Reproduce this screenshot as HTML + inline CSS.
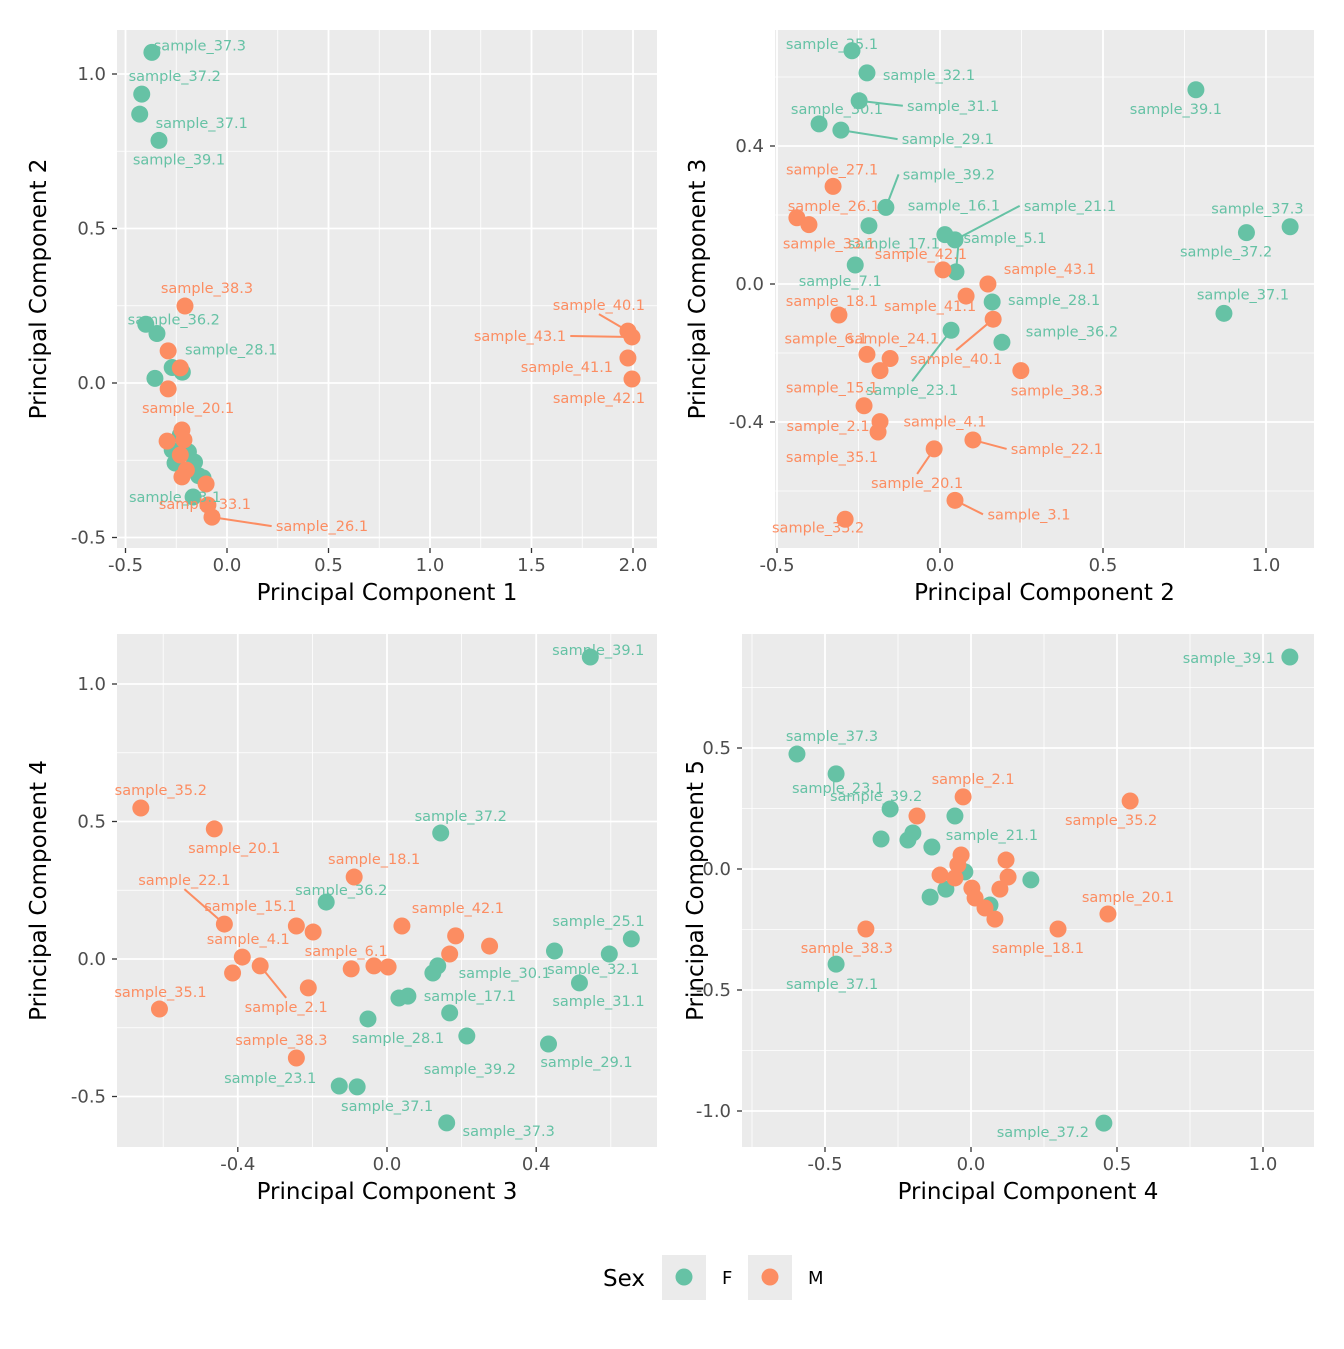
<!DOCTYPE html>
<html><head><meta charset="utf-8"><style>
body{margin:0;background:#fff;}
svg text{font-family:"DejaVu Sans","Liberation Sans",sans-serif;}
</style></head><body>
<svg id="chart" width="1344" height="1344" xmlns="http://www.w3.org/2000/svg">
<rect width="1344" height="1344" fill="#fff"/>
</svg>
<script>
// Panel 1: PC1 vs PC2
const p1x=[-0.37,-0.42,-0.43,-0.335,-0.40,-0.345,-0.355,-0.27,-0.22,-0.23,-0.19,-0.16,-0.14,-0.27,-0.256,-0.167,-0.118,-0.207,-0.29,-0.23,-0.29,-0.295,-0.222,-0.212,-0.23,-0.20,-0.222,-0.103,-0.094,-0.074,1.975,1.995,1.975,1.995];
const p1y=[1.07,0.935,0.87,0.785,0.19,0.16,0.015,0.05,0.035,-0.168,-0.223,-0.256,-0.30,-0.217,-0.259,-0.369,-0.307,0.249,0.104,0.049,-0.019,-0.188,-0.152,-0.184,-0.233,-0.282,-0.304,-0.327,-0.395,-0.434,0.168,0.149,0.081,0.013];
const p1sex=["F","F","F","F","F","F","F","F","F","F","F","F","F","F","F","F","F","M","M","M","M","M","M","M","M","M","M","M","M","M","M","M","M","M"];
const p1lab=["sample_37.3","sample_37.2","sample_37.1","sample_39.1","sample_36.2","","","sample_28.1","","","","","","","","sample_23.1","","sample_38.3","","","sample_20.1","","","","","","","","sample_33.1","sample_26.1","sample_40.1","sample_43.1","sample_41.1","sample_42.1"];
const p1ldx=[48,33,62,20,28,0,0,59,0,0,0,0,0,0,0,-18,0,22,0,0,20,0,0,0,0,0,0,0,-3,110,-29,-112,-61,-33];
const p1ldy=[-7,-18,9,19,-5,0,0,-18,0,0,0,0,0,0,0,0,0,-18,0,0,19,0,0,0,0,0,0,0,-1,9,-26,-1,9,19];
const p1seg=[29,30,31];

// Panel 2: PC2 vs PC3
const p2x=[-0.27,-0.224,-0.248,-0.371,-0.304,0.785,-0.166,-0.218,0.015,0.046,0.049,-0.26,0.16,0.034,0.19,0.94,1.074,0.871,-0.328,-0.439,-0.402,0.009,0.147,0.08,-0.31,0.163,-0.224,-0.153,-0.184,0.248,-0.233,-0.184,-0.19,0.101,-0.018,0.046,-0.291];
const p2y=[0.676,0.612,0.531,0.464,0.446,0.563,0.222,0.169,0.143,0.128,0.035,0.055,-0.052,-0.134,-0.169,0.149,0.166,-0.085,0.283,0.192,0.172,0.041,0,-0.035,-0.09,-0.102,-0.204,-0.216,-0.251,-0.251,-0.353,-0.399,-0.429,-0.452,-0.478,-0.627,-0.682];
const p2sex=["F","F","F","F","F","F","F","F","F","F","F","F","F","F","F","F","F","F","M","M","M","M","M","M","M","M","M","M","M","M","M","M","M","M","M","M","M"];
const p2lab=["sample_35.1","sample_32.1","sample_31.1","sample_30.1","sample_29.1","sample_39.1","sample_39.2","sample_16.1","sample_17.1","sample_21.1","sample_5.1","sample_7.1","sample_28.1","sample_23.1","sample_36.2","sample_37.3","sample_37.2","sample_37.1","sample_27.1","sample_26.1","sample_33.1","sample_42.1","sample_43.1","sample_41.1","sample_18.1","sample_40.1","sample_6.1","sample_24.1","sample_15.1","sample_38.3","sample_35.1","sample_4.1","sample_2.1","sample_22.1","sample_20.1","sample_3.1","sample_35.2"];
const p2ldx=[-20,62,94,18,107,-20,63,85,-51,115,49,-15,62,-39,70,11,-64,19,-1,37,20,-22,62,-36,-7,-37,-41,3,-48,36,-32,65,-50,84,-17,74,-27];
const p2ldy=[-7,2,5,-15,9,19,-33,-20,9,-34,-34,16,-2,60,-11,-24,25,-19,-17,-12,19,-16,-15,10,-14,40,-16,-20,17,20,51,0,-6,9,34,14,8];
const p2seg=[2,4,6,9,10,13,25,33,34,35];

// Panel 3: PC3 vs PC4
const p3x=[0.545,0.144,-0.163,0.449,0.655,0.596,0.516,0.136,0.123,0.056,0.032,0.168,-0.051,0.214,0.433,-0.128,-0.08,0.16,-0.66,-0.463,-0.088,-0.436,-0.243,-0.198,0.04,0.184,0.275,0.168,-0.388,-0.34,-0.414,-0.211,-0.096,-0.035,0.003,-0.61,-0.243];
const p3y=[1.098,0.458,0.207,0.029,0.073,0.018,-0.087,-0.025,-0.051,-0.135,-0.142,-0.196,-0.218,-0.28,-0.309,-0.462,-0.465,-0.596,0.549,0.473,0.298,0.127,0.12,0.098,0.12,0.084,0.047,0.018,0.007,-0.025,-0.051,-0.105,-0.036,-0.025,-0.029,-0.182,-0.36];
const p3sex=["F","F","F","F","F","F","F","F","F","F","F","F","F","F","F","F","F","F","M","M","M","M","M","M","M","M","M","M","M","M","M","M","M","M","M","M","M"];
const p3lab=["sample_39.1","sample_37.2","sample_36.2","sample_25.1","","sample_32.1","sample_31.1","sample_30.1","","sample_17.1","","","sample_28.1","sample_39.2","sample_29.1","sample_23.1","sample_37.1","sample_37.3","sample_35.2","sample_20.1","sample_18.1","sample_22.1","sample_15.1","","sample_42.1","","","","sample_4.1","sample_2.1","","","sample_6.1","","","sample_35.1","sample_38.3"];
const p3ldx=[8,20,15,44,0,-16,19,67,0,62,0,0,30,3,38,-69,30,62,20,20,20,-40,-46,0,56,0,0,0,6,26,0,0,-5,0,0,1,-15];
const p3ldy=[-7,-17,-12,-30,0,15,18,7,0,0,0,0,19,33,18,-8,19,8,-18,19,-18,-44,-20,0,-18,0,0,0,-18,41,0,0,-18,0,0,-17,-18];
const p3seg=[21,29];

// Panel 4: PC4 vs PC5
const p4x=[1.092,-0.596,-0.462,-0.277,-0.055,-0.308,-0.199,-0.216,-0.134,0.205,-0.14,-0.086,-0.021,0.065,-0.462,0.455,-0.027,-0.185,0.545,-0.034,-0.045,-0.106,-0.055,0.12,0.127,0.003,0.014,0.048,0.099,0.082,0.469,0.298,-0.36];
const p4y=[0.876,0.475,0.393,0.248,0.219,0.124,0.149,0.12,0.091,-0.045,-0.116,-0.083,-0.012,-0.149,-0.393,-1.05,0.298,0.219,0.281,0.058,0.017,-0.025,-0.037,0.037,-0.033,-0.079,-0.12,-0.161,-0.083,-0.207,-0.186,-0.248,-0.248];
const p4sex=["F","F","F","F","F","F","F","F","F","F","F","F","F","F","F","F","M","M","M","M","M","M","M","M","M","M","M","M","M","M","M","M","M"];
const p4lab=["sample_39.1","sample_37.3","sample_23.1","sample_39.2","sample_21.1","","","","","","","","","","sample_37.1","sample_37.2","sample_2.1","","sample_35.2","","","","","","","","","","","","sample_20.1","sample_18.1","sample_38.3"];
const p4ldx=[-61,35,2,-14,37,0,0,0,0,0,0,0,0,0,-4,-61,10,0,-19,0,0,0,0,0,0,0,0,0,0,0,20,-20,-19];
const p4ldy=[1,-18,14,-13,19,0,0,0,0,0,0,0,0,0,20,9,-18,0,19,0,0,0,0,0,0,0,0,0,0,0,-17,19,19];
const p4seg=[];

const xt1=["-0.5","0.0","0.5","1.0","1.5","2.0"], yt1=["-0.5","0.0","0.5","1.0"];
const xt2=["-0.5","0.0","0.5","1.0"], yt2=["-0.4","0.0","0.4"];
const xt3=["-0.4","0.0","0.4"], yt3=["-0.5","0.0","0.5","1.0"];
const xt4=["-0.5","0.0","0.5","1.0"], yt4=["-1.0","-0.5","0.0","0.5"];

const NS="http://www.w3.org/2000/svg";
const svg=document.getElementById('chart');
const COL={F:"#66c2a5",M:"#fc8d62"};
function mk(tag,attrs,parent){const e=document.createElementNS(NS,tag);for(const k in attrs)e.setAttribute(k,attrs[k]);(parent||svg).appendChild(e);return e;}

function panel(o){
  const g=mk('g',{});
  
  
  const sx=v=>o.x0+v*o.kx, sy=v=>o.y0-v*o.ky;
  const bg=mk('rect',{x:o.L,y:o.T,width:o.R-o.L,height:o.B-o.T,fill:"#ebebeb"},g);
  
  
  const xv=o.xt.map(Number), yv=o.yt.map(Number);
  const xs=xv[1]-xv[0], ys=yv[1]-yv[0];
  for(let v=xv[0]-xs*2.5;v<=xv[xv.length-1]+xs*2.5;v+=xs){const p=sx(v);if(p>o.L&&p<o.R)mk('line',{x1:p,x2:p,y1:o.T,y2:o.B,stroke:"#fff","stroke-width":0.8},g);}
  for(let v=yv[0]-ys*2.5;v<=yv[yv.length-1]+ys*2.5;v+=ys){const p=sy(v);if(p>o.T&&p<o.B)mk('line',{x1:o.L,x2:o.R,y1:p,y2:p,stroke:"#fff","stroke-width":0.8},g);}
  xv.forEach((v,i)=>{const p=sx(v);
    mk('line',{x1:p,x2:p,y1:o.T,y2:o.B,stroke:"#fff","stroke-width":1.8},g);
    mk('line',{x1:p,x2:p,y1:o.B,y2:o.B+5,stroke:"#333","stroke-width":1.3},g);
    const t=mk('text',{x:p,y:o.B+23,"text-anchor":"middle","font-size":18,fill:"#4d4d4d"},g);t.textContent=o.xt[i];
    
    });
  yv.forEach((v,i)=>{const p=sy(v);
    mk('line',{x1:o.L,x2:o.R,y1:p,y2:p,stroke:"#fff","stroke-width":1.8},g);
    mk('line',{x1:o.L-5,x2:o.L,y1:p,y2:p,stroke:"#333","stroke-width":1.3},g);
    const t=mk('text',{x:o.L-11,y:p+6,"text-anchor":"end","font-size":18,fill:"#4d4d4d"},g);t.textContent=o.yt[i];
    
    });
  const xtl=mk('text',{x:(o.L+o.R)/2,y:o.B+52,"text-anchor":"middle","font-size":23,fill:"#000"},g);xtl.textContent=o.xlab;
  
  
  const yc=(o.T+o.B)/2, yx=o.ytx;
  const ytl=mk('text',{x:yx,y:yc,"text-anchor":"middle","font-size":23,fill:"#000",transform:`rotate(-90 ${yx} ${yc})`},g);ytl.textContent=o.ylab;
  
  
  o.seg.forEach(i=>{
    const px=sx(o.x[i]),py=sy(o.y[i]);const lx=px+o.dx[i],ly=py+o.dy[i];
    const hw=o.lab[i].length*4.3+3;let ex=lx,ey=ly;
    if(Math.abs(o.dx[i])>hw){ex=lx-Math.sign(o.dx[i])*hw;}else{ey=ly-Math.sign(o.dy[i])*9;}
    const s=mk('line',{x1:px,y1:py,x2:ex,y2:ey,stroke:COL[o.sex[i]],"stroke-width":2},g);
    
    
  });
  o.x.forEach((v,i)=>{
    const c=mk('circle',{cx:sx(v),cy:sy(o.y[i]),r:8.5,fill:COL[o.sex[i]]},g);
    
    
  });
  o.x.forEach((v,i)=>{
    if(!o.lab[i])return;
    const t=mk('text',{x:sx(v)+o.dx[i],y:sy(o.y[i])+o.dy[i]+5,"text-anchor":"middle","font-size":14.5,fill:COL[o.sex[i]]},g);
    t.textContent=o.lab[i];
    
    
  });
}
panel({name:'panel-pc1-pc2',L:117,R:657,T:30,B:548,x0:227,kx:203,y0:383,ky:309,xt:xt1,yt:yt1,xlab:"Principal Component 1",ylab:"Principal Component 2",ytx:46,x:p1x,y:p1y,sex:p1sex,lab:p1lab,dx:p1ldx,dy:p1ldy,seg:p1seg});
panel({name:'panel-pc2-pc3',L:775,R:1314,T:30,B:548,x0:940,kx:326,y0:284,ky:345,xt:xt2,yt:yt2,xlab:"Principal Component 2",ylab:"Principal Component 3",ytx:705,x:p2x,y:p2y,sex:p2sex,lab:p2lab,dx:p2ldx,dy:p2ldy,seg:p2seg});
panel({name:'panel-pc3-pc4',L:117,R:657,T:634,B:1147,x0:387,kx:373,y0:959,ky:275,xt:xt3,yt:yt3,xlab:"Principal Component 3",ylab:"Principal Component 4",ytx:46,x:p3x,y:p3y,sex:p3sex,lab:p3lab,dx:p3ldx,dy:p3ldy,seg:p3seg});
panel({name:'panel-pc4-pc5',L:742,R:1314,T:634,B:1147,x0:971,kx:292,y0:869,ky:242,xt:xt4,yt:yt4,xlab:"Principal Component 4",ylab:"Principal Component 5",ytx:703,x:p4x,y:p4y,sex:p4sex,lab:p4lab,dx:p4ldx,dy:p4ldy,seg:p4seg});

const lg=mk('g',{});


const lt=mk('text',{x:603,y:1286,"font-size":23,fill:"#000"},lg);lt.textContent="Sex";
[["F",662,"#66c2a5"],["M",748,"#fc8d62"]].forEach(([k,x,c])=>{
  const e=mk('g',{},lg);
  
  
  mk('rect',{x:x,y:1255,width:44,height:45,fill:"#ebebeb"},e);
  mk('circle',{cx:x+22,cy:1277,r:8.5,fill:c},e);
  const t=mk('text',{x:x+60,y:1284,"font-size":18,fill:"#000"},e);t.textContent=k;
});
</script>
</body></html>
